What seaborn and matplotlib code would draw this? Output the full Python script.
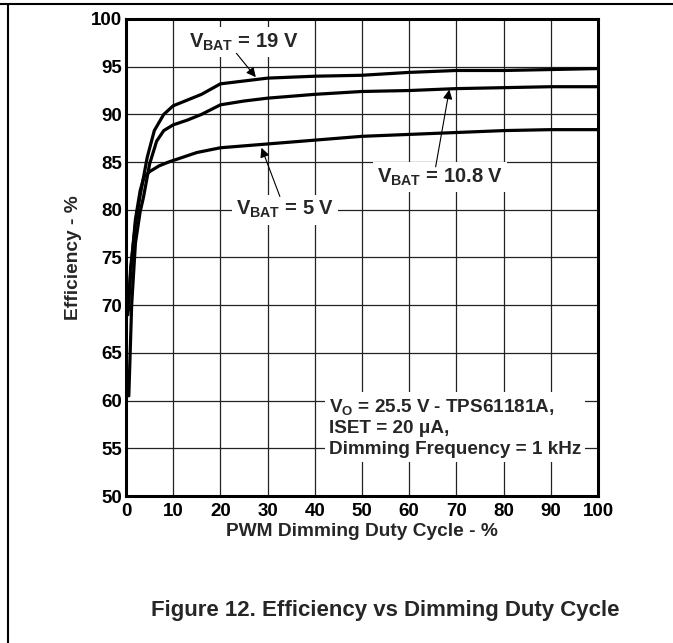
import matplotlib
matplotlib.use("Agg")
import matplotlib.pyplot as plt
from matplotlib.lines import Line2D
import pandas as pd
import seaborn as sns

# Efficiency curves
duty_19 = [0.5, 1.0, 2.0, 3.0, 4.5, 6.0, 8.0, 10.0, 13.0, 16.0, 20.0, 25.0, 30.0,
           40.0, 50.0, 60.0, 70.0, 80.0, 90.0, 100.0]
eff_19 = [69.5, 74.0, 78.5, 81.5, 85.5, 88.3, 90.0, 90.9, 91.5, 92.1, 93.2, 93.5, 93.8,
          94.0, 94.1, 94.4, 94.6, 94.6, 94.7, 94.8]

duty_108 = [0.6, 1.2, 2.0, 3.0, 3.7, 5.0, 6.5, 8.0, 10.0, 13.0, 16.0, 20.0, 25.0, 30.0,
            40.0, 50.0, 60.0, 70.0, 80.0, 90.0, 100.0]
eff_108 = [60.5, 70.0, 76.5, 79.8, 81.3, 84.8, 87.2, 88.3, 88.9, 89.4, 90.0, 91.0, 91.4, 91.7,
           92.1, 92.4, 92.5, 92.7, 92.8, 92.9, 92.9]

duty_5 = [0.4, 1.0, 2.0, 3.0, 3.8, 5.0, 7.0, 9.0, 12.0, 15.0, 20.0, 25.0, 30.0,
          40.0, 50.0, 60.0, 70.0, 80.0, 90.0, 100.0]
eff_5 = [69.0, 73.5, 79.0, 82.0, 83.4, 84.0, 84.6, 85.0, 85.5, 86.0, 86.5, 86.7, 86.9,
         87.3, 87.7, 87.9, 88.1, 88.3, 88.4, 88.4]

x_ticks = list(range(0, 101, 10))
y_ticks = list(range(50, 101, 5))

sns.set_theme(style="white")
plt.rcParams['font.family'] = ['Liberation Sans', 'DejaVu Sans']
plt.rcParams['font.weight'] = 'bold'
plt.rcParams['mathtext.fontset'] = 'custom'
plt.rcParams['mathtext.rm'] = 'Liberation Sans:bold'
plt.rcParams['mathtext.it'] = 'Liberation Sans:bold'
plt.rcParams['mathtext.bf'] = 'Liberation Sans:bold'

fig = plt.figure(figsize=(6.73, 6.43), dpi=100)
ax = fig.add_axes([0.1872, 0.2286, 0.7014, 0.7419])

curves = [(duty_19, eff_19), (duty_108, eff_108), (duty_5, eff_5)]
for xs, ys in curves:
    df = pd.DataFrame({'duty': xs, 'eff': ys})
    sns.lineplot(data=df, x='duty', y='eff', color='black', lw=2.3, ax=ax, sort=False)

ax.set_xlim(0, 100)
ax.set_ylim(50, 100)
ax.set_xticks(x_ticks)
ax.set_yticks(y_ticks)
ax.grid(True, color='#222222', lw=0.9)
ax.set_axisbelow(True)
for s in ax.spines.values():
    s.set_linewidth(2.2)
    s.set_color('black')
ax.tick_params(length=0, labelsize=13.5, colors='black')
ax.tick_params(axis='x', pad=5)
ax.tick_params(axis='y', pad=3)
for lab in ax.get_xticklabels() + ax.get_yticklabels():
    lab.set_fontweight('bold')
ax.set_xlabel('PWM Dimming Duty Cycle - %', fontsize=13.8, fontweight='bold', labelpad=2)
ax.set_ylabel('Efficiency - %', fontsize=13.8, fontweight='bold', labelpad=6)

box = dict(facecolor='white', edgecolor='none', pad=3)
arrow = dict(arrowstyle='-|>', color='black', lw=0.8, mutation_scale=14, shrinkA=0, shrinkB=0)

ax.text(25.0, 97.6, r'$\mathrm{V_{BAT}}$ = 19 V', fontsize=14.5, ha='center', va='center', bbox=box)
ax.annotate('', xy=(27.5, 93.9), xytext=(23.4, 96.4), arrowprops=arrow)

ax.text(33.7, 80.0, r'$\mathrm{V_{BAT}}$ = 5 V', fontsize=14.5, ha='center', va='center', bbox=box)
ax.annotate('', xy=(28.7, 86.5), xytext=(32.6, 81.4), arrowprops=arrow)

ax.text(66.5, 83.4, r'$\mathrm{V_{BAT}}$ = 10.8 V', fontsize=14.5, ha='center', va='center', bbox=box)
ax.annotate('', xy=(68.5, 92.6), xytext=(65.6, 84.5), arrowprops=arrow)

note = ('$\\mathrm{V_{O}}$ = 25.5 V - TPS61181A,\n'
        'ISET = 20 \u03bcA,\n'
        'Dimming Frequency = 1 kHz')
ax.text(43.0, 57.2, note, fontsize=13.6, ha='left', va='center', linespacing=1.28,
        bbox=dict(facecolor='white', edgecolor='none', pad=3))

fig.text(0.572, 0.051, 'Figure 12. Efficiency vs Dimming Duty Cycle',
         fontsize=16, fontweight='bold', ha='center', va='center')

# page frame lines
fig.add_artist(Line2D([0, 1], [0.9938, 0.9938], color='black', lw=1.5))
fig.add_artist(Line2D([0.0119, 0.0119], [0, 0.9938], color='black', lw=1.5))

fig.savefig('out.png', dpi=100)
